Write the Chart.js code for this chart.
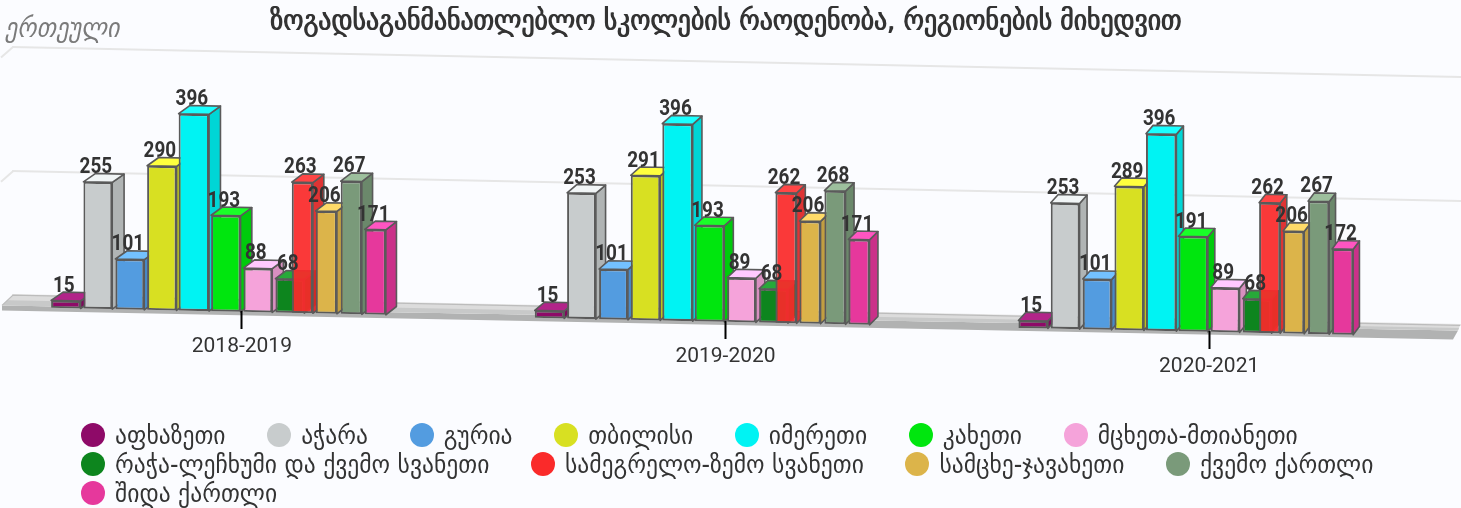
<!DOCTYPE html>
<html lang="ka"><head><meta charset="utf-8">
<script src="https://cdn.jsdelivr.net/npm/chart.js@4"></script>
<style>
html,body{margin:0;padding:0;background:#fbfcff;width:1461px;height:508px;overflow:hidden}
#wrap{position:relative;width:1461px;height:508px}
canvas{position:absolute;left:0;top:0}
#legend{position:absolute;left:81px;top:420px;width:1340px;display:flex;flex-wrap:wrap;column-gap:41.6px;row-gap:0;
 font:26.2px "DejaVu Sans Condensed","DejaVu Sans",sans-serif;color:#333}
#legend div{display:flex;align-items:center;height:29px;white-space:nowrap}
#legend i{display:block;width:24px;height:24px;border-radius:50%;margin-right:10px}
</style></head><body>
<div id="wrap"><canvas id="c" width="1461" height="508"></canvas><div id="legend"></div></div>
<script>
const years = ['2018-2019','2019-2020','2020-2021'];
const names = ['აფხაზეთი','აჭარა','გურია','თბილისი','იმერეთი','კახეთი','მცხეთა-მთიანეთი','რაჭა-ლეჩხუმი და ქვემო სვანეთი','სამეგრელო-ზემო სვანეთი','სამცხე-ჯავახეთი','ქვემო ქართლი','შიდა ქართლი'];
const abkhazeti = [15,15,15];
const ajara = [255,253,253];
const guria = [101,101,101];
const tbilisi = [290,291,289];
const imereti = [396,396,396];
const kakheti = [193,193,191];
const mtskheta = [88,89,89];
const racha = [68,68,68];
const samegrelo = [263,262,262];
const samtskhe = [206,206,206];
const kvemo = [267,268,267];
const shida = [171,171,172];
const seriesValues = [abkhazeti,ajara,guria,tbilisi,imereti,kakheti,mtskheta,racha,samegrelo,samtskhe,kvemo,shida];
const colors = ['#8e0a68','#c8cccd','#539ce0','#d8e022','#00f3f3','#00e60e','#f5a3da','#0d851e','#fa2a2a','#dcb44a','#7a9a7a','#e6389c'];
const titleText = 'ზოგადსაგანმანათლებლო სკოლების რაოდენობა, რეგიონების მიხედვით';
const yTitle = 'ერთეული';
// layout styling (in units of one bar slot)
const barPct = [.92,.9,.9,.92,.95,.92,.9,.9,.66,.66,.66,.66];
const slotShift = [0,0,0,0,0,0,0,0,-.61,-.86,-1.08,-1.33];
const SHEAR = 10/483, CAT = .794, BAR_DROP = .8;
const FONT = '"DejaVu Sans Condensed","DejaVu Sans",sans-serif';
const LATIN = 'Roboto,"DejaVu Sans",sans-serif';

function shade(hex,f){
  const n=parseInt(hex.slice(1),16);
  return [n>>16,(n>>8)&255,n&255].map(v=>Math.min(255,Math.round(f>1?v*f+25:v*f)));
}
function poly(ctx,pts,fill,stroke,w){
  ctx.beginPath();pts.forEach((p,i)=>i?ctx.lineTo(p[0],p[1]):ctx.moveTo(p[0],p[1]));ctx.closePath();
  if(fill){ctx.fillStyle=fill;ctx.fill();}
  if(stroke){ctx.strokeStyle=stroke;ctx.lineWidth=w;ctx.lineJoin='round';ctx.stroke();}
}
const plugin3d = {
  id:'plugin3d',
  afterDatasetsUpdate(chart){
    const sx=chart.scales.x, slot=sx.width/3*CAT/12;
    chart.getSortedVisibleDatasetMetas().forEach(m=>{
      m.data.forEach((el,j)=>{
        // datasets are painted left to right, so mirror the slot order inside each group
        const mid=sx.getPixelForValue(j);
        el.x=2*mid-el.x+slotShift[m.index]*slot;
      });
    });
  },
  beforeDraw(chart){
    const sx=chart.scales.x, sg=chart.scales.yGrid;
    if(!sx._patched){
      sx._patched=true;
      const g=sx.drawGrid.bind(sx);
      sx.drawGrid=a=>{const c=chart.ctx;c.save();c.transform(1,SHEAR,0,1,0,0);g(a);c.restore();};
      const li=sx._computeLabelItems.bind(sx);
      sx._computeLabelItems=a=>{const it=li(a);it.forEach(o=>{const t=o.options.translation;o.options.translation=[t[0],t[1]+SHEAR*t[0]];});return it;};
      sx._computeLabelArea=()=>undefined;
      sx._labelItems=null;
      const g2=sg.drawGrid.bind(sg);
      sg.drawGrid=a=>{const c=chart.ctx;c.save();c.transform(1,SHEAR,0,1,12,-10.9);g2(a);c.restore();};
    }
  },
  beforeDatasetsDraw(chart){
    const c=chart.ctx,a=chart.chartArea,sg=chart.scales.yGrid;
    const L=a.left+2,R=a.right,b=a.bottom;
    c.save();c.strokeStyle='#e6e6e6';c.lineWidth=2;
    [200,400].forEach(v=>{const y=sg.getPixelForValue(v);c.beginPath();c.moveTo(L-1,y);c.lineTo(L+11,y-10.9+.3);c.stroke();});
    // floor: front lip, rear light band, front darker band, rear edge
    poly(c,[[L,b-.6],[R+7,b+24.5],[R+2,b+33.4],[L,b+4.5]],'#b1b2b2');
    poly(c,[[L,b-.6],[L+11,b-10.9],[R+9,b+19.4],[R+7,b+24.5]],'#dcdcdc');
    poly(c,[[L,b-.6],[L+5.5,b-5.8],[R+8,b+22],[R+7,b+24.5]],'#c8c9c9');
    c.strokeStyle='#bcbcbc';c.lineWidth=1.2;c.beginPath();c.moveTo(L,b-.6);c.lineTo(L+11,b-10.9);c.lineTo(R+9,b+19.4);c.stroke();
    c.restore();
    c.save();c.transform(1,SHEAR,0,1,0,BAR_DROP);
  },
  beforeDatasetDraw(chart,args){
    const c=chart.ctx,i=args.index,col=colors[i],al=i===8?.93:1;
    const top=shade(col,1.08),side=shade(col,.88);
    args.meta.data.forEach(el=>{
      const R=el.x+el.width/2,L=el.x-el.width/2,dx=12.3-.0045*el.x,dy=8.5,y=el.y,b=el.base;
      poly(c,[[R,y],[R+dx,y-dy],[R+dx,b-dy],[R,b]],`rgba(${side},${al})`,'#5a5a5a',1.6);
      poly(c,[[L,y],[R,y],[R+dx,y-dy],[L+dx,y-dy]],`rgb(${top})`,'#5a5a5a',1.6);
    });
  },
  afterDatasetsDraw(chart){
    const c=chart.ctx;c.restore();
    c.save();c.fillStyle='#333';c.textAlign='center';c.textBaseline='middle';
    c.font='bold 22px '+LATIN;
    chart.getSortedVisibleDatasetMetas().slice().reverse().forEach(m=>{
      m.data.forEach((el,j)=>{
        const v=chart.data.datasets[m.index].data[j];
        c.save();c.translate(el.x-2,el.y+SHEAR*el.x-14.5+BAR_DROP);c.scale(.86,1);c.fillText(String(v),0,0);c.restore();
      });
    });
    c.restore();
  },
  afterDraw(chart){
    const c=chart.ctx;c.save();c.fillStyle='#7a7a7a';c.font='italic 27px '+FONT;c.textBaseline='middle';c.textAlign='left';
    c.fillText(yTitle,5,30);c.restore();
    c.save();c.translate(1,0);chart.titleBlock.draw();c.restore();
  }
};
const datasets = names.map((n,i)=>({
  label:n,data:seriesValues[i],backgroundColor:i===8?'rgba(250,42,42,.93)':colors[i],
  borderColor:'#5a5a5a',borderWidth:2,borderSkipped:false,order:12-i,clip:false,
  barPercentage:barPct[i],categoryPercentage:CAT,yAxisID:'y'
}));
const chart=new Chart(document.getElementById('c'),{
  type:'bar',
  data:{labels:years,datasets},
  plugins:[plugin3d],
  options:{
    responsive:false,animation:false,devicePixelRatio:1,
    layout:{padding:{top:4,left:0,right:10,bottom:148.8}},
    plugins:{
      legend:{display:false},tooltip:{enabled:false},
      title:{display:true,text:titleText,color:'#333',font:{family:FONT,size:28.6,weight:'normal',lineHeight:1.05},padding:{top:4,bottom:19.5}}
    },
    scales:{
      x:{grid:{offset:false,drawOnChartArea:false,drawTicks:true,tickLength:18,tickWidth:2,tickColor:'#000',z:1},border:{display:false},
         ticks:{color:'#333',font:{family:LATIN,size:21},padding:5,maxRotation:0}},
      y:{display:false,min:0,max:500},
      yGrid:{position:'left',min:0,max:400,afterFit(s){s.width=0;},grid:{color:'#e6e6e6',lineWidth:2,drawTicks:false},border:{display:false},
         ticks:{display:false,stepSize:200}}
    }
  }
});
const lg=document.getElementById('legend');
names.forEach((n,i)=>{const d=document.createElement('div');const m=document.createElement('i');m.style.background=colors[i];d.appendChild(m);d.appendChild(document.createTextNode(n));lg.appendChild(d);});
</script></body></html>
